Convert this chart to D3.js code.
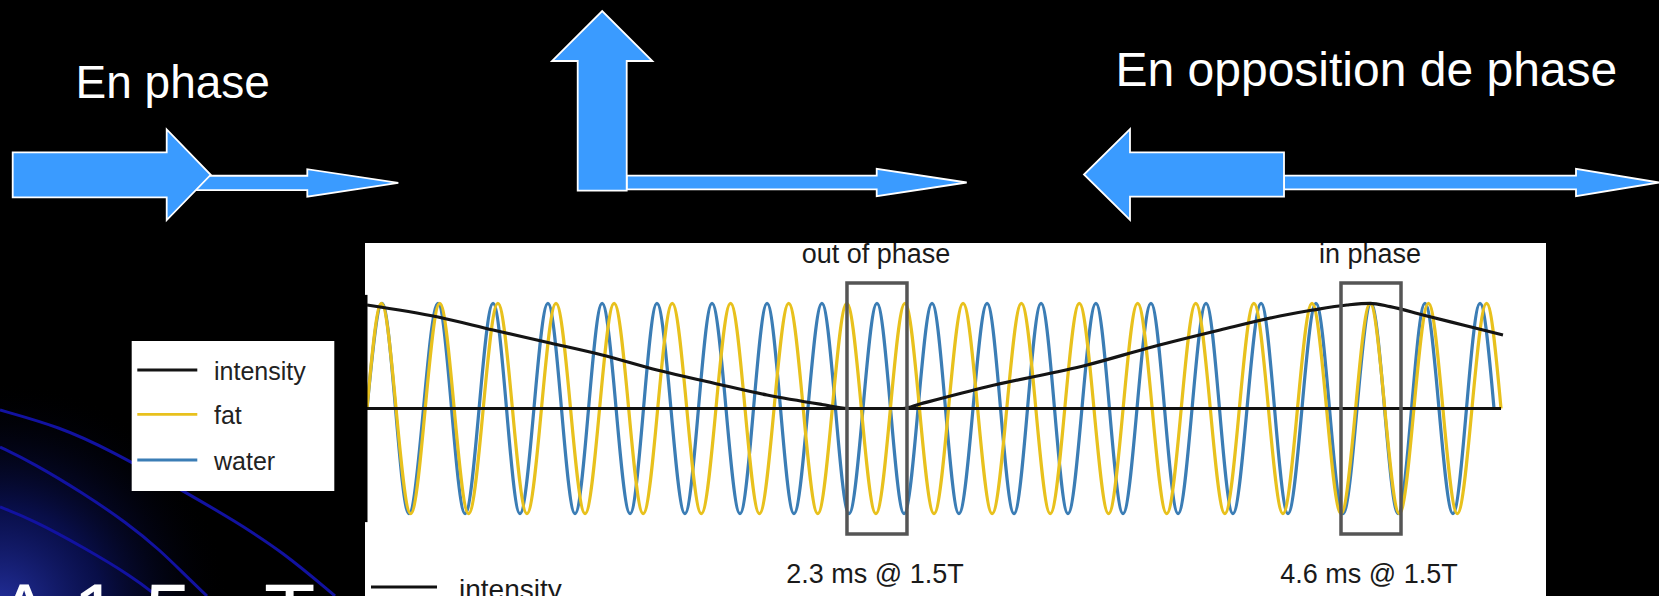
<!DOCTYPE html>
<html><head><meta charset="utf-8">
<script src="https://cdn.jsdelivr.net/npm/d3@7"></script>
<style>html,body{margin:0;padding:0;background:#000;overflow:hidden}svg{display:block}</style>
</head><body>
<svg id="c" width="1659" height="596"></svg>
<script>
// ---------------- DATA ----------------
const seriesNames  = ["intensity", "fat", "water"];
const seriesColors = ["#141414", "#e8c11d", "#3b7db5"];

// water (blue) extrema, time in ms
const waterPeaks   = [0.069,0.325,0.577,0.828,1.076,1.327,1.579,1.831,2.082,2.334,2.586,2.838,3.085,3.336,3.588,3.840,4.092,4.343,4.595,4.842,5.094];
const waterTroughs = [0.192,0.449,0.700,0.952,1.204,1.455,1.707,1.954,2.206,2.458,2.709,2.961,3.208,3.460,3.712,3.963,4.215,4.467,4.719,4.970];
const waterEnd = 5.158;

// fat (yellow) extrema, time in ms
const fatPeaks   = [0.066,0.333,0.599,0.865,1.131,1.397,1.664,1.930,2.196,2.462,2.728,2.995,3.260,3.527,3.793,4.059,4.325,4.591,4.858,5.124];
const fatTroughs = [0.200,0.465,0.732,0.998,1.264,1.530,1.796,2.063,2.329,2.595,2.861,3.127,3.394,3.660,3.926,4.192,4.458,4.725,4.990];
const fatEnd = 5.19;

// intensity envelope (time ms, value)
const intensityT = [0,0.325,0.577,0.838,1.076,1.327,1.584,1.831,2.082,2.201,2.453,2.531,2.838,3.295,3.597,3.904,4.178,4.329,4.485,4.590,4.682,4.833,5.016,5.199];
const intensityV = [0.984,0.870,0.746,0.623,0.509,0.366,0.243,0.128,0.038,0,0,0.043,0.207,0.413,0.587,0.746,0.879,0.936,0.984,1.0,0.968,0.889,0.794,0.699];

// annotations
const boxLabels  = ["out of phase", "in phase"];
const boxTimes   = [2.334, 4.595];
const echoLabels = ["2.3 ms @ 1.5T", "4.6 ms @ 1.5T"];

// slide texts
const titleLeft  = "En phase";
const titleRight = "En opposition de phase";
const fieldText  = ["A 1.5", "T"];

// ---------------- DRAWING ----------------
const svg = d3.select("#c");
const FONT = "'Liberation Sans', Arial, Helvetica, sans-serif";
const defs = svg.append("defs");
const rg = defs.append("radialGradient").attr("id","glow")
  .attr("gradientUnits","userSpaceOnUse").attr("cx",0).attr("cy",610).attr("r",230);
rg.append("stop").attr("offset","0%").attr("stop-color","#2633a8").attr("stop-opacity",0.95);
rg.append("stop").attr("offset","45%").attr("stop-color","#0c1466").attr("stop-opacity",0.7);
rg.append("stop").attr("offset","100%").attr("stop-color","#000").attr("stop-opacity",0);

svg.append("rect").attr("width",1659).attr("height",596).attr("fill","#000");
svg.append("rect").attr("x",0).attr("y",380).attr("width",360).attr("height",216).attr("fill","url(#glow)");

// decorative background arcs
const arcs = [
  [[0,410],[60,427],[110,450],[187,493],[233,520],[283,552],[335,596]],
  [[0,447],[33,463],[83,493],[127,523],[160,550],[187,577],[207,596]],
  [[0,507],[33,520],[83,547],[133,577],[157,596]]
];
const arcLine = d3.line().curve(d3.curveBasis);
svg.selectAll("path.arc").data(arcs).join("path").attr("class","arc")
  .attr("d", arcLine).attr("fill","none").attr("stroke","#1212a0").attr("stroke-width",3);

const ft = svg.append("text").attr("x",-4).attr("y",642).attr("fill","#fff")
  .attr("font-family",FONT).attr("font-size",84).attr("letter-spacing",1);
ft.append("tspan").text(fieldText[0]);
ft.append("tspan").attr("x",264).text(fieldText[1]);

// titles
svg.append("text").attr("x",75.5).attr("y",98).attr("fill","#fff")
  .attr("font-family",FONT).attr("font-size",46).text(titleLeft);
svg.append("text").attr("x",1115.5).attr("y",86).attr("fill","#fff")
  .attr("font-family",FONT).attr("font-size",48).text(titleRight);

// arrows
const AF = "#3a9bff";
function hArrow(x0, x1, cy, sw, hh, hl){
  const d = Math.sign(x1-x0), hb = x1 - d*hl;
  const p = [[x0,cy-sw/2],[hb,cy-sw/2],[hb,cy-hh/2],[x1,cy],[hb,cy+hh/2],[hb,cy+sw/2],[x0,cy+sw/2]];
  svg.append("polygon").attr("points", p.map(q=>q.join(",")).join(" "))
    .attr("fill",AF).attr("stroke","#fff").attr("stroke-width",1.8).attr("stroke-linejoin","miter");
}
function vArrow(cx, y0, y1, sw, hw, hl){
  const hb = y1 + hl;
  const p = [[cx-sw/2,y0],[cx-sw/2,hb],[cx-hw/2,hb],[cx,y1],[cx+hw/2,hb],[cx+sw/2,hb],[cx+sw/2,y0]];
  svg.append("polygon").attr("points", p.map(q=>q.join(",")).join(" "))
    .attr("fill",AF).attr("stroke","#fff").attr("stroke-width",1.8).attr("stroke-linejoin","miter");
}
hArrow(185, 398.3, 182.9, 14.3, 27.4, 91);
hArrow(12.7, 210.7, 174.8, 45, 90.7, 44);
hArrow(626.7, 966.7, 182.5, 13.6, 27.4, 90);
vArrow(602.2, 190.7, 11, 49, 100.4, 50);
hArrow(1284, 1659, 182.5, 13.6, 27.4, 83);
hArrow(1284, 1084, 174.5, 44.4, 90.7, 46);

// left legend box
const lg = svg.append("g");
lg.append("rect").attr("x",131.7).attr("y",341).attr("width",202.6).attr("height",150).attr("fill","#fff");
const legY = [370, 414.3, 460];
seriesNames.forEach((n,i)=>{
  lg.append("line").attr("x1",137.3).attr("x2",197.3).attr("y1",legY[i]).attr("y2",legY[i])
    .attr("stroke",seriesColors[i]).attr("stroke-width",2.8);
  lg.append("text").attr("x",214).attr("y",legY[i]+9.5).attr("fill","#222")
    .attr("font-family",FONT).attr("font-size",25).text(n);
});

// chart panel
svg.append("rect").attr("x",365).attr("y",243).attr("width",1181).attr("height",360).attr("fill","#fff");

const x = d3.scaleLinear().domain([0, 5.2]).range([367, 367 + 5.2*218.5]);
const y = d3.scaleLinear().domain([-1, 1]).range([408.5 + 105.2, 408.5 - 105.2]);

function buildWave(peaks, troughs, end){
  const pts = [[0,0]].concat(peaks.map(t=>[t,1]), troughs.map(t=>[t,-1]));
  pts.sort((a,b)=>a[0]-b[0]);
  pts.push([end,0]);
  return pts;
}
const waterPts = buildWave(waterPeaks, waterTroughs, waterEnd);
const fatPts   = buildWave(fatPeaks, fatTroughs, fatEnd);
const intPts   = intensityT.map((t,i)=>[t, intensityV[i]]);

const line = d3.line().x(d=>x(d[0])).y(d=>y(d[1])).curve(d3.curveMonotoneX);
const plot = svg.append("g");
plot.append("path").attr("d", line(waterPts)).attr("fill","none")
  .attr("stroke",seriesColors[2]).attr("stroke-width",3.2);
plot.append("path").attr("d", line(fatPts)).attr("fill","none")
  .attr("stroke",seriesColors[1]).attr("stroke-width",3.2);

// zero line
plot.append("line").attr("x1",x(0)).attr("x2",x(5.19)).attr("y1",y(0)).attr("y2",y(0))
  .attr("stroke","#111").attr("stroke-width",3);
// left axis bar
plot.append("rect").attr("x",x(0)-3).attr("y",y(1.08)).attr("width",3.5).attr("height",y(-1.08)-y(1.08))
  .attr("fill","#000");
plot.append("path").attr("d", line(intPts)).attr("fill","none")
  .attr("stroke",seriesColors[0]).attr("stroke-width",3.2).attr("stroke-linejoin","round");

// annotation boxes
boxTimes.forEach((t,i)=>{
  const cx = x(t);
  plot.append("rect").attr("x",cx-30).attr("y",y(1.193)).attr("width",60).attr("height",y(-1.193)-y(1.193))
    .attr("fill","none").attr("stroke","#555").attr("stroke-width",3.5);
  plot.append("text").attr("x",cx-1).attr("y",263).attr("text-anchor","middle").attr("fill","#1a1a1a")
    .attr("font-family",FONT).attr("font-size",27).text(boxLabels[i]);
  plot.append("text").attr("x",cx-2).attr("y",583).attr("text-anchor","middle").attr("fill","#1a1a1a")
    .attr("font-family",FONT).attr("font-size",27).text(echoLabels[i]);
});

// bottom partial legend
plot.append("line").attr("x1",371).attr("x2",437).attr("y1",587).attr("y2",587)
  .attr("stroke","#111").attr("stroke-width",3);
plot.append("text").attr("x",459).attr("y",599).attr("fill","#1a1a1a")
  .attr("font-family",FONT).attr("font-size",28).text(seriesNames[0]);
</script>
</body></html>
